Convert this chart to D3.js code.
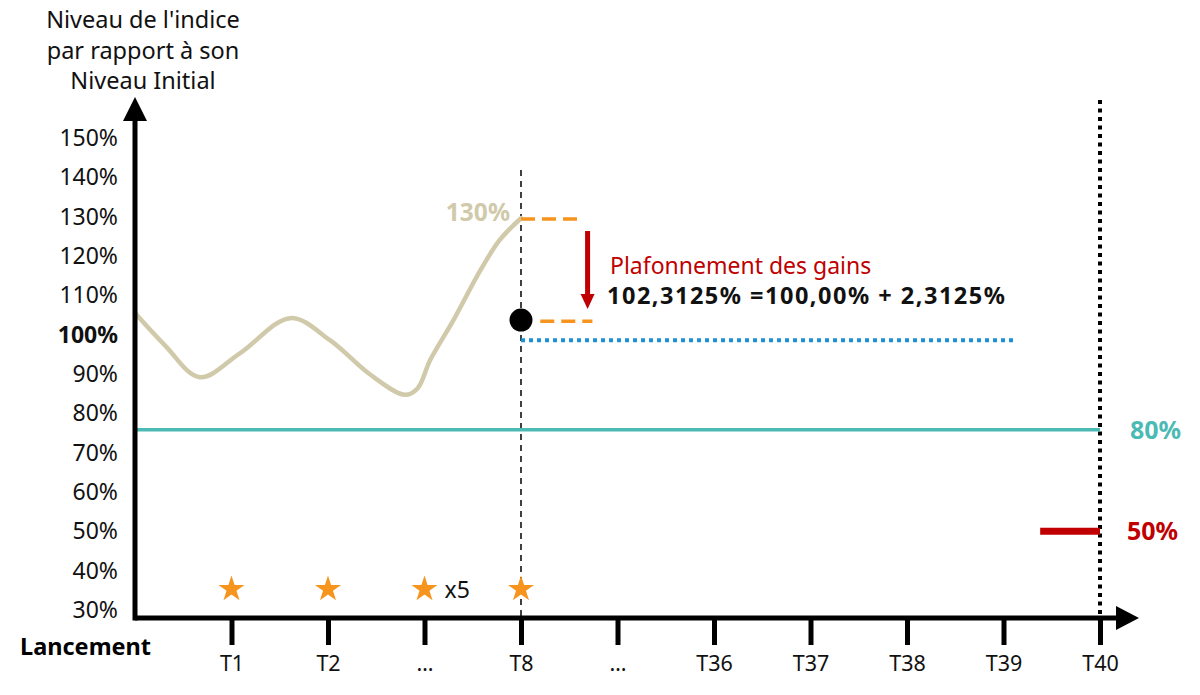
<!DOCTYPE html>
<html><head><meta charset="utf-8">
<script src="https://cdn.jsdelivr.net/npm/d3@7/dist/d3.min.js"></script>
<style>body{margin:0;background:#fff}svg{display:block}text{font-family:"Noto Sans","Open Sans",sans-serif}</style>
</head><body><svg id="c" width="1200" height="695"></svg>
<script>
// ---- data ----
const titleLines = ["Niveau de l'indice", "par rapport à son", "Niveau Initial"];
const yTickValues = [30, 40, 50, 60, 70, 80, 90, 100, 110, 120, 130, 140, 150];
const xTickPos = [1, 2, 3, 4, 5, 6, 7, 8, 9, 10];
const xTickLabels = ["T1", "T2", "…", "T8", "…", "T36", "T37", "T38", "T39", "T40"];
const pathX = [0, 0.31, 0.67, 1.09, 1.61, 2.02, 2.44, 2.8, 2.93, 3.06, 3.3, 3.58, 3.78, 4.0];
const pathY = [105.5, 97.3, 89.2, 95.3, 104.2, 98.6, 89.8, 84.7, 86.4, 93.6, 103.7, 116.4, 124.1, 129.6];
const starPos = [1, 2, 3, 4];
const starLevel = 35.3;
const capLevel = 129.4;       // orange upper dash
const capDot = 103.7;         // black dot
const blueLevel = 98.6;       // blue dotted line
const barrierLevel = 75.8;    // teal line
const protectLevel = 50;      // red bar
const obsIdx = 4;             // T8
const finalIdx = 10;          // T40

// ---- scales ----
const svg = d3.select("#c");
const x = d3.scaleLinear().domain([0, 10]).range([135, 1100]);
const y = d3.scaleLinear().domain([30, 150]).range([610, 138]);
const axisY0 = 618;

// title
svg.append("g").selectAll("text").data(titleLines).join("text")
  .attr("x", 143).attr("y", (d, i) => 28 + i * 30.5)
  .attr("text-anchor", "middle").attr("font-size", 23.5).attr("fill", "#111").text(d => d);

// y axis labels
const yAx = svg.append("g").attr("transform", `translate(${x(0)},0)`)
  .call(d3.axisLeft(y).tickValues(yTickValues).tickSize(0).tickPadding(17).tickFormat(d => d + "%"));
yAx.select(".domain").remove();
yAx.selectAll("text").attr("font-size", 23).attr("fill", "#111")
  .attr("font-weight", d => d === 100 ? "bold" : "normal")
  .attr("font-family", '"Noto Sans","Open Sans",sans-serif');

// vertical lines
svg.append("line").attr("x1", x(obsIdx)).attr("x2", x(obsIdx)).attr("y1", 170).attr("y2", axisY0)
  .attr("stroke", "#111").attr("stroke-width", 1.6).attr("stroke-dasharray", "6,5");
svg.append("line").attr("x1", x(finalIdx)).attr("x2", x(finalIdx)).attr("y1", 100).attr("y2", axisY0)
  .attr("stroke", "#000").attr("stroke-width", 4).attr("stroke-dasharray", "4,4.5");

// teal barrier
svg.append("line").attr("x1", x(0)).attr("x2", x(finalIdx)).attr("y1", y(barrierLevel)).attr("y2", y(barrierLevel))
  .attr("stroke", "#4cbab4").attr("stroke-width", 3.5);
// red protection bar
svg.append("line").attr("x1", x(9.38)).attr("x2", x(finalIdx)).attr("y1", y(protectLevel)).attr("y2", y(protectLevel))
  .attr("stroke", "#c00000").attr("stroke-width", 7);

// blue dotted line
svg.append("line").attr("x1", x(obsIdx)).attr("x2", x(9.14)).attr("y1", y(blueLevel)).attr("y2", y(blueLevel))
  .attr("stroke", "#1c8fd7").attr("stroke-width", 4).attr("stroke-dasharray", "4,4");

// curve
const pts = pathX.map((d, i) => [d, pathY[i]]);
svg.append("path").datum(pts)
  .attr("d", d3.line().x(d => x(d[0])).y(d => y(d[1])).curve(d3.curveCatmullRom.alpha(0.5)))
  .attr("fill", "none").attr("stroke", "#d0c9aa").attr("stroke-width", 4.5).attr("stroke-linecap", "round");

// orange dashes
svg.append("line").attr("x1", x(obsIdx)).attr("x2", x(4.63)).attr("y1", y(capLevel)).attr("y2", y(capLevel))
  .attr("stroke", "#f7941d").attr("stroke-width", 3.5).attr("stroke-dasharray", "14,7");
svg.append("line").attr("x1", x(4.2)).attr("x2", x(4.74)).attr("y1", y(capDot - 0.3)).attr("y2", y(capDot - 0.3))
  .attr("stroke", "#f7941d").attr("stroke-width", 3.5).attr("stroke-dasharray", "14,7");

// dot
svg.append("circle").attr("cx", x(obsIdx)).attr("cy", y(capDot)).attr("r", 11.5).attr("fill", "#000");

// red arrow
const ax = x(4.69);
svg.append("line").attr("x1", ax).attr("x2", ax).attr("y1", 231).attr("y2", 296)
  .attr("stroke", "#c00000").attr("stroke-width", 5);
svg.append("path").attr("d", `M${ax - 7},294 L${ax + 7},294 L${ax},309 Z`).attr("fill", "#c00000");

// annotations
svg.append("text").attr("x", 510).attr("y", y(130) + 4).attr("text-anchor", "end")
  .attr("font-size", 24.5).attr("font-weight", "bold").attr("fill", "#d0c9aa").text("130%");
svg.append("text").attr("x", 610).attr("y", 274).attr("font-size", 23).attr("fill", "#c00000").text("Plafonnement des gains");
svg.append("text").attr("x", 607).attr("y", 304).attr("font-size", 23.5).attr("font-weight", "bold").attr("fill", "#111")
  .attr("letter-spacing", 1.5).text("102,3125% =100,00% + 2,3125%");
svg.append("text").attr("x", 1130).attr("y", y(barrierLevel) + 9).attr("font-size", 25).attr("font-weight", "bold")
  .attr("fill", "#4cbab4").text("80%");
svg.append("text").attr("x", 1127).attr("y", y(protectLevel) + 9).attr("font-size", 25).attr("font-weight", "bold")
  .attr("fill", "#c00000").text("50%");

// stars
svg.append("g").selectAll("path").data(starPos).join("path")
  .attr("transform", d => `translate(${x(d)},${y(starLevel)})`)
  .attr("d", d3.symbol().type(d3.symbolStar).size(210)).attr("fill", "#f7941d");
svg.append("text").attr("x", x(3) + 20).attr("y", y(starLevel) + 9).attr("font-size", 23).attr("fill", "#111").text("x5");

// x axis
const xAx = svg.append("g").attr("transform", `translate(0,${axisY0})`)
  .call(d3.axisBottom(x).tickValues(xTickPos).tickSize(27).tickPadding(11).tickFormat((d, i) => xTickLabels[i]));
xAx.select(".domain").remove();
xAx.selectAll(".tick line").attr("stroke", "#000").attr("stroke-width", 5);
xAx.selectAll("text").attr("font-size", 21.5).attr("fill", "#111").attr("font-family", '"Noto Sans","Open Sans",sans-serif');

// axis lines with arrows
svg.append("line").attr("x1", x(0)).attr("x2", 1118).attr("y1", axisY0).attr("y2", axisY0)
  .attr("stroke", "#000").attr("stroke-width", 5);
svg.append("path").attr("d", `M1116,${axisY0 - 12} L1139,${axisY0} L1116,${axisY0 + 12} Z`).attr("fill", "#000");
svg.append("line").attr("x1", x(0)).attr("x2", x(0)).attr("y1", 118).attr("y2", axisY0 + 2.5)
  .attr("stroke", "#000").attr("stroke-width", 5);
svg.append("path").attr("d", `M${x(0) - 12},121 L${x(0)},97 L${x(0) + 12},121 Z`).attr("fill", "#000");

svg.append("text").attr("x", 20).attr("y", 655).attr("font-size", 23.5).attr("font-weight", "bold").attr("fill", "#000").text("Lancement");
</script></body></html>
